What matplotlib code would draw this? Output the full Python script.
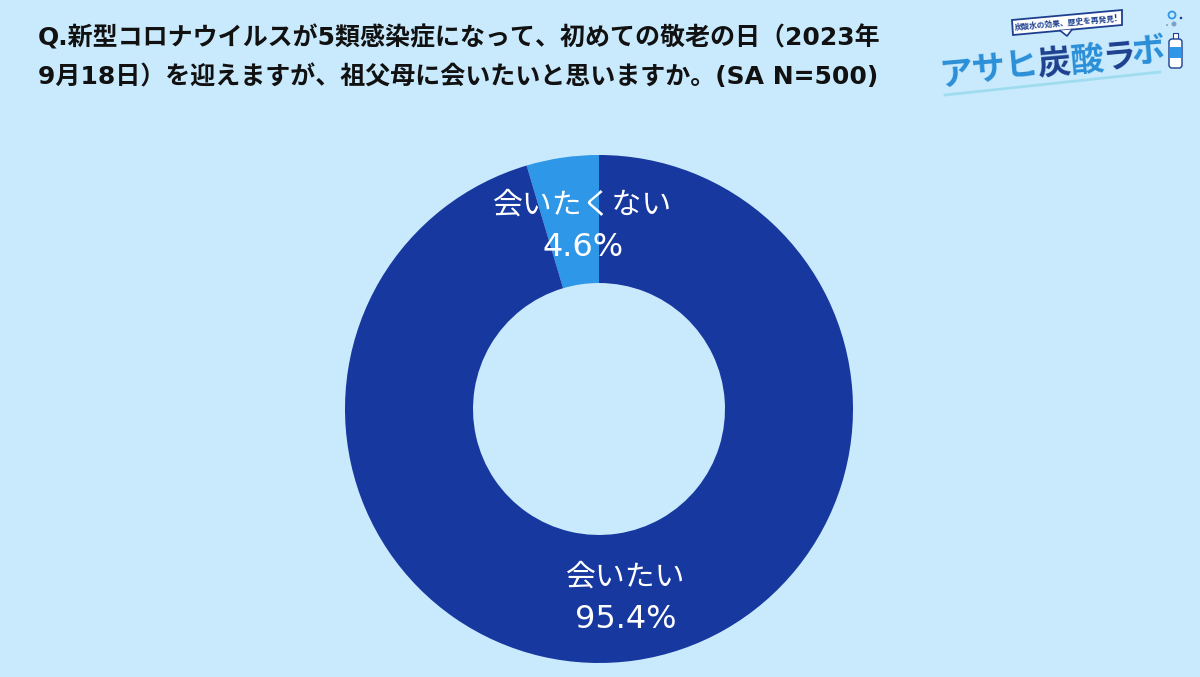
import matplotlib
matplotlib.use('Agg')
import matplotlib.pyplot as plt
from matplotlib.patches import FancyBboxPatch, Polygon, Rectangle, Circle

plt.rcParams['font.family'] = ['DejaVu Sans', 'Noto Sans CJK JP']

W, H = 1200, 677
BG = '#c9eafd'

labels = ['会いたくない', '会いたい']
values = [4.6, 95.4]
colors = ['#2f97e8', '#16389f']
title_lines = ['Q.新型コロナウイルスが5類感染症になって、初めての敬老の日（2023年',
               '9月18日）を迎えますが、祖父母に会いたいと思いますか。(SA N=500)']
logo_chars = ['ア', 'サ', 'ヒ', '炭', '酸', 'ラ', 'ボ']
logo_x = [956, 988, 1021, 1054, 1087, 1119, 1148]
logo_y = [74, 70, 67, 64, 61, 57, 52]
logo_colors = ['#2a8fd8', '#2a8fd8', '#2a8fd8', '#1c3f8f', '#2a8fd8', '#1c3f8f', '#2a8fd8']


def fx(px):
    return px / W


def fy(py):
    return 1 - py / H


fig = plt.figure(figsize=(12, 6.77), dpi=100, facecolor=BG)

# donut, axes sized so radius 1 fills it
cx, cy, r = 599, 409, 254
ax = fig.add_axes([fx(cx - r), fy(cy + r), 2 * r / W, 2 * r / H])
ax.pie(values, colors=colors, startangle=90, radius=1, wedgeprops={'width': 0.504})
ax.set_xlim(-1, 1)
ax.set_ylim(-1, 1)

# labels
fig.text(fx(583), fy(205), labels[0], color='white', fontsize=21.5, ha='center', va='center')
fig.text(fx(583), fy(248), f'{values[0]}%', color='white', fontsize=23, ha='center', va='center')
fig.text(fx(626), fy(577), labels[1], color='white', fontsize=21.5, ha='center', va='center')
fig.text(fx(626), fy(620), f'{values[1]}%', color='white', fontsize=23, ha='center', va='center')

# question
fig.text(fx(38), fy(38), title_lines[0], color='#111111', fontsize=18, fontweight='bold', va='center')
fig.text(fx(38), fy(77), title_lines[1], color='#111111', fontsize=18, fontweight='bold', va='center')

# logo, drawn on a full-figure overlay in pixel coords
ov = fig.add_axes([0, 0, 1, 1], facecolor='none')
ov.set_xlim(0, W)
ov.set_ylim(H, 0)
ov.axis('off')
ov.add_patch(Polygon([[1012, 20], [1122, 10], [1122, 25], [1013, 35]], fc='white', ec='#1c3f8f', lw=1.3))
ov.add_patch(Polygon([[1060, 30.5], [1072, 29.5], [1067, 36]], fc='white', ec='none'))
ov.plot([1060, 1067, 1072], [30.5, 36, 29.5], color='#1c3f8f', lw=1.2)
ov.text(1067, 22.5, '炭酸水の効果、歴史を再発見!', color='#1c3f8f', fontsize=5.6, fontweight='bold',
        ha='center', va='center', rotation=5)
ov.plot([945, 1160], [95, 72], color='#9fdcef', lw=2)

for s, x, y, c in zip(logo_chars, logo_x, logo_y, logo_colors):
    ov.text(x, y, s, color=c, fontsize=24, fontweight='bold', ha='center', va='center', rotation=5)

# bottle and bubbles
ov.add_patch(Rectangle((1173, 33), 5, 6, fc='white', ec='#1c3f8f', lw=0.8))
ov.add_patch(FancyBboxPatch((1169, 39), 13, 29, boxstyle='round,pad=0,rounding_size=3', fc='white', ec='#1c3f8f', lw=1))
ov.add_patch(Rectangle((1170, 47), 11, 11, fc='#2f97e8', ec='none'))
ov.add_patch(Circle((1172, 15), 3.5, fc='none', ec='#2f97e8', lw=1.3))
ov.add_patch(Circle((1174, 24), 2.5, fc='#7da0c8', ec='none'))
ov.add_patch(Circle((1181, 18), 1.3, fc='#1c3f8f', ec='none'))
ov.add_patch(Circle((1167, 25), 1, fc='#7da0c8', ec='none'))

fig.savefig('out.png', dpi=100, facecolor=BG)
